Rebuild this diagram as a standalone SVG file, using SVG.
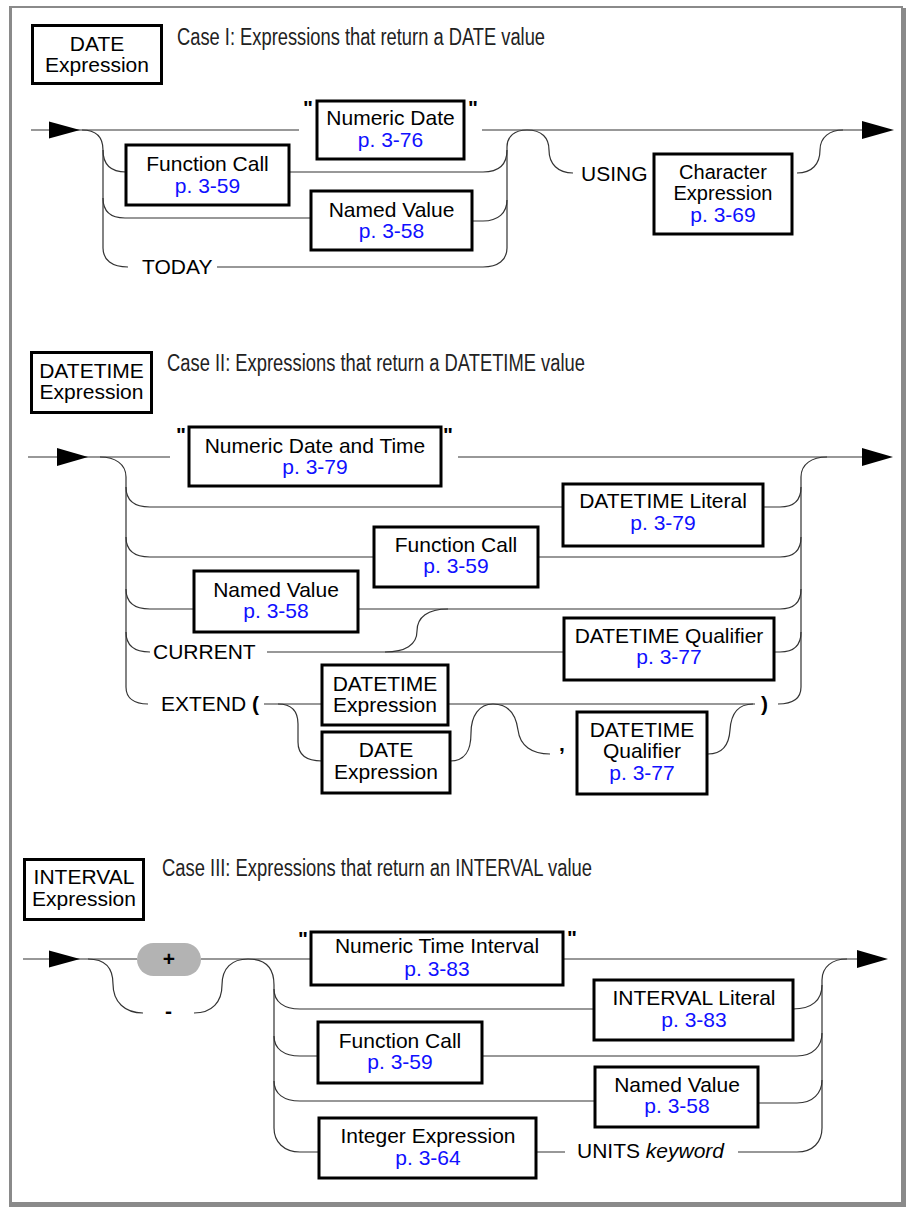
<svg xmlns="http://www.w3.org/2000/svg" width="911" height="1207" viewBox="0 0 911 1207">
<defs>
<style>
.frame{fill:#8a8a8a}
.box{fill:#fff;stroke:#000;stroke-width:3}
.t{font-family:"Liberation Sans",Arial,sans-serif;font-size:21px;fill:#000}
.c{text-anchor:middle}
.ln{fill:#1010ff}
.title{font-family:"Liberation Sans",Arial,sans-serif;font-size:23px;fill:#222}
.b{font-weight:bold}
.it{font-style:italic}
.w{fill:none;stroke:#333;stroke-width:1.2}
.arr{fill:#000}
.pill{fill:#b3b3b3}
.s20{font-size:20px}
</style>
</defs>
<rect width="911" height="1207" fill="#fff"/>
<g id="frame">
<rect class="frame" x="10" y="6" width="893" height="2"/>
<rect class="frame" x="9" y="6" width="3" height="1198"/>
<rect class="frame" x="901" y="8" width="5" height="1199"/>
<rect class="frame" x="9" y="1202" width="897" height="5"/>
</g>

<!-- ===== Case I ===== -->
<g id="date-expression-label">
<rect class="box" x="32.5" y="25.5" width="129" height="58"/>
<text class="t c" x="97" y="51">DATE</text>
<text class="t c" x="97" y="72">Expression</text>
</g>
<text class="title" x="177" y="45" textLength="368" lengthAdjust="spacingAndGlyphs">Case I: Expressions that return a DATE value</text>

<g id="connectors-case1">
<path class="w" d="M31,130 H299 M482,130 H862"/>
<polygon class="arr" points="49,121.5 80,130 49,138.5"/>
<polygon class="arr" points="862,121 894,130 862,139"/>
<path class="w" d="M82,130 C96,130 103,137 103,150 V248 C103,260 112,267 128,267"/>
<path class="w" d="M103,150 C103,164 110,172 126,172"/>
<path class="w" d="M103,198 C103,211 110,218 125,218 H311"/>
<path class="w" d="M217,267 H483 C498,267 507,260 507,248 V147 C507,136 515,130 527,130"/>
<path class="w" d="M289,172 H483 C498,172 507,165 507,150"/>
<path class="w" d="M472,221 H483 C498,221 507,213 507,200"/>
<path class="w" d="M527,130 C542,130 549,138 549,150 C549,164 558,173 573,173"/>
<path class="w" d="M797,173 C812,173 820,164 820,150 C820,137 830,130 843,130"/>
</g>
<text class="t b" x="303" y="115">"</text>
<text class="t b" x="468" y="115">"</text>
<g id="numeric-date">
<rect class="box" x="317" y="101" width="147" height="58"/>
<text class="t c" x="390.5" y="125">Numeric Date</text>
<text class="t c ln" x="390.5" y="147">p. 3-76</text>
</g>
<g id="function-call-1">
<rect class="box" x="126" y="145" width="163" height="60"/>
<text class="t c" x="207.5" y="171">Function Call</text>
<text class="t c ln" x="207.5" y="193">p. 3-59</text>
</g>
<g id="named-value-1">
<rect class="box" x="311" y="191" width="161" height="59"/>
<text class="t c" x="391.5" y="217">Named Value</text>
<text class="t c ln" x="391.5" y="238">p. 3-58</text>
</g>
<g id="today">
<text class="t" x="142" y="274">TODAY</text>
</g>
<g id="using">
<text class="t" x="581" y="181">USING</text>
</g>
<g id="character-expression">
<rect class="box" x="654" y="154" width="138" height="80"/>
<text class="t c s20" x="723" y="179">Character</text>
<text class="t c s20" x="723" y="200">Expression</text>
<text class="t c ln" x="723" y="222">p. 3-69</text>
</g>

<!-- ===== Case II ===== -->
<g id="datetime-expression-label">
<rect class="box" x="31.5" y="352.5" width="120" height="60"/>
<text class="t c" x="91.5" y="378">DATETIME</text>
<text class="t c" x="91.5" y="399">Expression</text>
</g>
<text class="title" x="167" y="371" textLength="418" lengthAdjust="spacingAndGlyphs">Case II: Expressions that return a DATETIME value</text>

<g id="connectors-case2">
<path class="w" d="M28,457 H170 M458,457 H862"/>
<polygon class="arr" points="57,448 88,457 57,466"/>
<polygon class="arr" points="862,448 893,457 862,466"/>
<path class="w" d="M100,457 C115,457 126,464 126,477 V687 C126,698 134,704 148,704"/>
<path class="w" d="M126,487 C126,500 134,507 150,507 H563"/>
<path class="w" d="M126,537 C126,550 134,557 150,557 H374"/>
<path class="w" d="M126,589 C126,602 134,609 150,609 H194"/>
<path class="w" d="M126,632 C126,645 134,652 150,652"/>
<path class="w" d="M267,652 H564"/>
<path class="w" d="M385,652 C405,652 417,645 417,631 C417,617 428,609 448,609"/>
<path class="w" d="M358,609 H780 C794,609 801,602 801,589"/>
<path class="w" d="M538,557 H780 C794,557 801,550 801,537"/>
<path class="w" d="M763,507 H780 C794,507 801,500 801,487"/>
<path class="w" d="M774,652 H780 C794,652 801,645 801,632"/>
<path class="w" d="M778,704 C793,704 801,698 801,687 V477 C801,464 812,457 827,457"/>
<path class="w" d="M264,704 H322 M448,704 H755"/>
<path class="w" d="M278,704 C292,704 298,711 298,724 V742 C298,755 306,761 322,761"/>
<path class="w" d="M450,761 C466,761 471,750 471,733 C471,716 479,704 493,704"/>
<path class="w" d="M493,704 C509,704 516,715 518,730 C520,746 532,754 550,754"/>
<path class="w" d="M708,754 C722,754 729,745 730,730 C731,714 738,704 753,704"/>
</g>
<text class="t b" x="176" y="442">"</text>
<text class="t b" x="443" y="442">"</text>
<g id="numeric-date-and-time">
<rect class="box" x="189" y="427" width="252" height="59"/>
<text class="t c" x="315" y="453">Numeric Date and Time</text>
<text class="t c ln" x="315" y="474">p. 3-79</text>
</g>
<g id="datetime-literal">
<rect class="box" x="563" y="484" width="200" height="62"/>
<text class="t c" x="663" y="508">DATETIME Literal</text>
<text class="t c ln" x="663" y="530">p. 3-79</text>
</g>
<g id="function-call-2">
<rect class="box" x="374" y="527" width="164" height="60"/>
<text class="t c" x="456" y="552">Function Call</text>
<text class="t c ln" x="456" y="573">p. 3-59</text>
</g>
<g id="named-value-2">
<rect class="box" x="194" y="571" width="164" height="61"/>
<text class="t c" x="276" y="597">Named Value</text>
<text class="t c ln" x="276" y="618">p. 3-58</text>
</g>
<g id="current">
<text class="t" x="153" y="659">CURRENT</text>
</g>
<g id="datetime-qualifier-1">
<rect class="box" x="564" y="618" width="210" height="62"/>
<text class="t c" x="669" y="643">DATETIME Qualifier</text>
<text class="t c ln" x="669" y="664">p. 3-77</text>
</g>
<g id="extend">
<text class="t" x="161" y="711">EXTEND</text>
<text class="t b" x="252" y="711">(</text>
</g>
<g id="datetime-expression-inner">
<rect class="box" x="322" y="665" width="126" height="60"/>
<text class="t c" x="385" y="691">DATETIME</text>
<text class="t c" x="385" y="712">Expression</text>
</g>
<g id="date-expression-inner">
<rect class="box" x="322" y="732" width="128" height="61"/>
<text class="t c" x="386" y="757">DATE</text>
<text class="t c" x="386" y="779">Expression</text>
</g>
<g id="comma">
<text class="t b" x="559" y="751">,</text>
</g>
<g id="datetime-qualifier-2">
<rect class="box" x="577" y="712" width="130" height="82"/>
<text class="t c" x="642" y="737">DATETIME</text>
<text class="t c" x="642" y="758">Qualifier</text>
<text class="t c ln" x="642" y="780">p. 3-77</text>
</g>
<g id="close-paren">
<text class="t b" x="761" y="711">)</text>
</g>

<!-- ===== Case III ===== -->
<g id="interval-expression-label">
<rect class="box" x="24.5" y="859.5" width="119" height="60"/>
<text class="t c" x="84" y="884">INTERVAL</text>
<text class="t c" x="84" y="906">Expression</text>
</g>
<text class="title" x="162" y="876" textLength="430" lengthAdjust="spacingAndGlyphs">Case III: Expressions that return an INTERVAL value</text>

<g id="connectors-case3">
<path class="w" d="M23,959 H137 M201,959 H311 M563,959 H857"/>
<polygon class="arr" points="49,950.5 80,959 49,967.5"/>
<polygon class="arr" points="857,950 888,959 857,968"/>
<path class="w" d="M88,959 C105,959 113,968 113,984 C113,1002 125,1013 143,1013"/>
<path class="w" d="M194,1013 C212,1013 222,1002 222,985 C222,968 232,959 248,959"/>
<path class="w" d="M248,959 C265,959 274,968 274,985 V1128 C274,1142 284,1152 300,1152 H319"/>
<path class="w" d="M274,989 C274,1002 284,1009 300,1009 H594"/>
<path class="w" d="M274,1036 C274,1049 284,1056 300,1056 H318"/>
<path class="w" d="M274,1081 C274,1094 284,1101 300,1101 H595"/>
<path class="w" d="M793,1009 C812,1009 822,1000 822,985"/>
<path class="w" d="M482,1056 H797 C813,1056 822,1046 822,1033"/>
<path class="w" d="M758,1103 H797 C813,1103 822,1093 822,1080"/>
<path class="w" d="M536,1152 H565 M738,1152 H797 C813,1152 822,1142 822,1128 V980 C822,967 832,959 847,959"/>
</g>
<g id="plus">
<rect class="pill" x="137" y="943" width="64" height="33" rx="16.5"/>
<text class="t b c" x="169" y="966">+</text>
</g>
<g id="minus">
<text class="t b c" x="168.5" y="1018">-</text>
</g>
<text class="t b" x="298" y="946">"</text>
<text class="t b" x="567" y="945">"</text>
<g id="numeric-time-interval">
<rect class="box" x="311" y="932" width="252" height="53"/>
<text class="t c" x="437" y="953">Numeric Time Interval</text>
<text class="t c ln" x="437" y="976">p. 3-83</text>
</g>
<g id="interval-literal">
<rect class="box" x="594" y="980" width="199" height="60"/>
<text class="t c" x="694" y="1005">INTERVAL Literal</text>
<text class="t c ln" x="694" y="1027">p. 3-83</text>
</g>
<g id="function-call-3">
<rect class="box" x="318" y="1022" width="164" height="61"/>
<text class="t c" x="400" y="1048">Function Call</text>
<text class="t c ln" x="400" y="1069">p. 3-59</text>
</g>
<g id="named-value-3">
<rect class="box" x="595" y="1067" width="163" height="60"/>
<text class="t c" x="677" y="1092">Named Value</text>
<text class="t c ln" x="677" y="1113">p. 3-58</text>
</g>
<g id="integer-expression">
<rect class="box" x="319" y="1118" width="217" height="60"/>
<text class="t c" x="428" y="1143">Integer Expression</text>
<text class="t c ln" x="428" y="1165">p. 3-64</text>
</g>
<g id="units-keyword">
<text class="t" x="577" y="1158">UNITS <tspan class="it">keyword</tspan></text>
</g>
</svg>
